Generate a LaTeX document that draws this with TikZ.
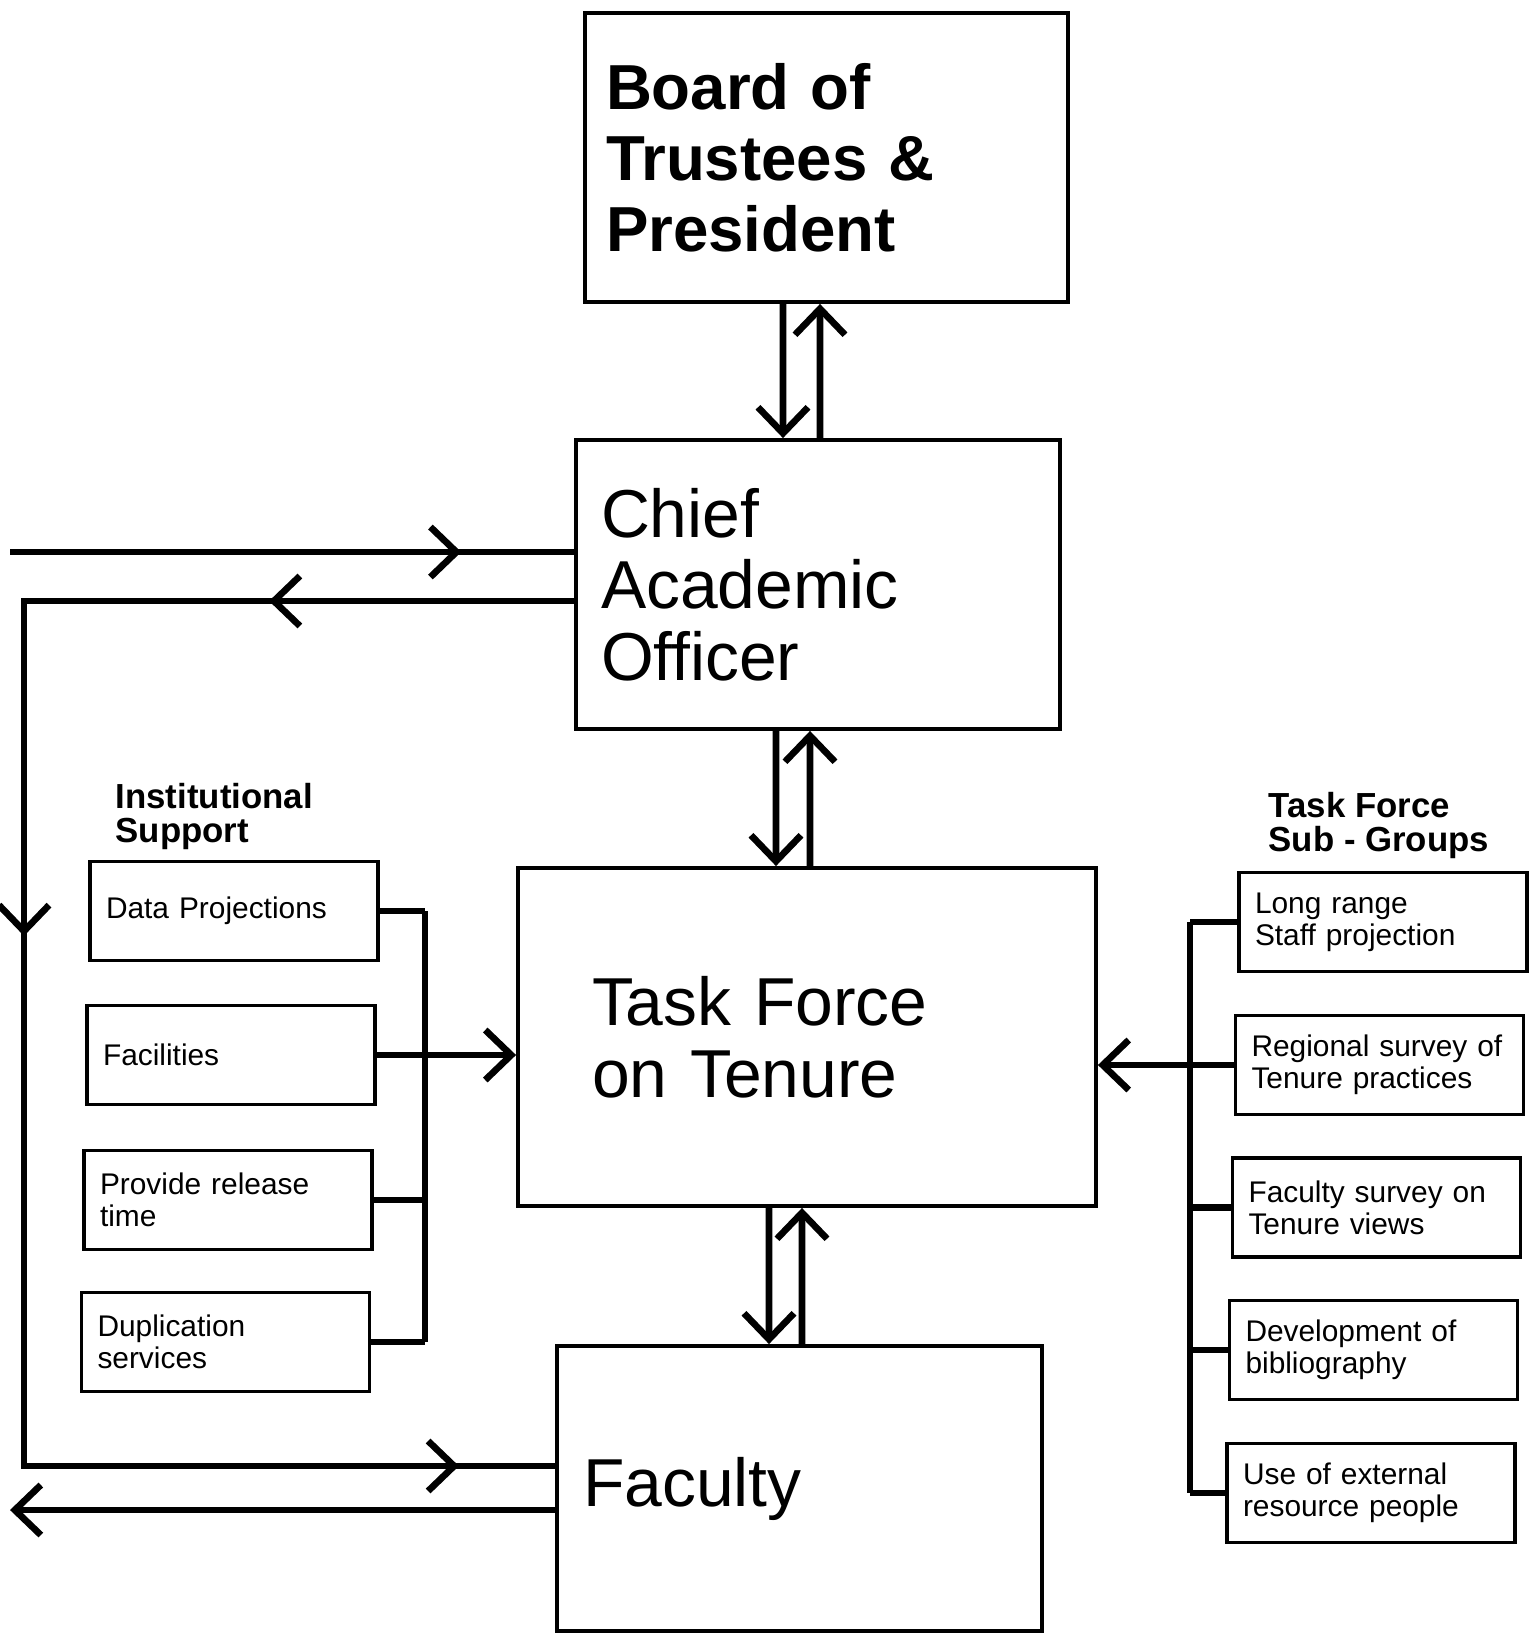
\documentclass[tikz,border=0pt]{standalone}
\usepackage{fontspec}
\setmainfont{Liberation Sans}
\usetikzlibrary{arrows.meta, decorations.markings}

\tikzset{
    chev/.tip={Straight Barb[length=2.6mm,width=5mm]},
    flow/.style={line width=1.9pt},
    bigbox/.style={draw, line width=1.1pt, rectangle, align=left, inner ysep=0pt,
        minimum height=2.89cm, font=\fontsize{19.3}{20.4}\selectfont},
    smallbox/.style={draw, line width=1pt, rectangle, align=left, text width=2.56cm,
        inner xsep=0.16cm, minimum height=0.99cm, font=\fontsize{8.5}{9.2}\selectfont},
    heading/.style={anchor=north west, inner sep=0pt, align=left,
        font=\bfseries\fontsize{9.9}{9.6}\selectfont},
    midarrow/.style={postaction={decorate,
        decoration={markings, mark=at position #1 with {\arrow{chev}}}}},
}

\begin{document}
\begin{tikzpicture}

    \useasboundingbox (0,0) rectangle (15.36,-16.33);

    %main boxes
    \node[bigbox, text width=4.41cm, inner xsep=0.21cm, font=\bfseries\fontsize{18.1}{20.2}\selectfont]
        (board) at (8.265,-1.575) {Board of\\Trustees \&\\President};
    \node[bigbox, text width=4.34cm, inner xsep=0.25cm] (chief) at (8.18,-5.845)
        {Chief\\Academic\\Officer};
    \node[bigbox, text width=4.30cm, inner xsep=0.74cm, minimum height=3.38cm]
        (tf) at (8.07,-10.37) {Task Force\\on Tenure};
    \node[bigbox, text width=4.33cm, inner xsep=0.26cm, minimum height=2.85cm] (faculty) at (7.995,-14.885)
        {Faculty};

    %institutional support
    \node[heading] (support) at (1.15,-7.83) {Institutional\\Support};
    \node[smallbox] (data) at (2.34,-9.11) {Data Projections};
    \node[smallbox] (facil) at (2.31,-10.55) {Facilities};
    \node[smallbox] (release) at (2.28,-12.0) {Provide release\\time};
    \node[smallbox] (dupl) at (2.255,-13.42) {Duplication\\services};

    %sub-groups
    \node[heading] (groups) at (12.68,-7.92) {Task Force\\Sub - Groups};
    \node[smallbox] (staff) at (13.83,-9.22) {Long range\\Staff projection};
    \node[smallbox] (region) at (13.795,-10.65) {Regional survey of\\Tenure practices};
    \node[smallbox] (views) at (13.765,-12.075) {Faculty survey on\\Tenure views};
    \node[smallbox] (biblio) at (13.735,-13.5) {Development of\\bibliography};
    \node[smallbox] (extern) at (13.71,-14.93) {Use of external\\resource people};

    %vertical arrows
    \draw[flow,-chev] ([xshift=-4.35mm]board.south) -- ([xshift=-3.5mm]chief.north);
    \draw[flow,-chev] ([xshift=0.2mm]chief.north) -- ([xshift=-0.65mm]board.south);
    \draw[flow,-chev] ([xshift=-4.2mm]chief.south) -- ([xshift=-3.1mm]tf.north);
    \draw[flow,-chev] ([xshift=0.3mm]tf.north) -- ([xshift=-0.8mm]chief.south);
    \draw[flow,-chev] ([xshift=-3.8mm]tf.south) -- ([xshift=-3.05mm]faculty.north);
    \draw[flow,-chev] ([xshift=0.25mm]faculty.north) -- ([xshift=-0.5mm]tf.south);

    %left loop
    \coordinate (in) at (0.1,-5.52);
    \coordinate (out) at (0.1,-15.10);
    \coordinate (ltop) at (0.24,-6.01);
    \coordinate (lbot) at (0.24,-14.66);

    \draw[flow, midarrow=0.8] (in) -- (in -| chief.west);
    \draw[flow, postaction={decorate, decoration={markings,
            mark=at position 3.05cm with {\arrow{chev}},
            mark=at position 8.85cm with {\arrow{chev}},
            mark=at position 18.5cm with {\arrow{chev}}}}]
        (ltop -| chief.west) -- (ltop) -- (lbot) -- (lbot -| faculty.west);
    \draw[flow,-chev] (out -| faculty.west) -- (out);

    %left bracket
    \coordinate (lbar) at (4.25,0);
    \foreach \b in {data,facil,release,dupl}
        \draw[flow] (\b.east) -- (\b.east -| lbar);
    \draw[flow] (data.east -| lbar) -- (dupl.east -| lbar);
    \draw[flow,-chev] (facil.east) -- (facil.east -| tf.west);

    %right bracket
    \coordinate (rbar) at (11.9,0);
    \foreach \b in {staff,region,views,biblio,extern}
        \draw[flow] (\b.west) -- (\b.west -| rbar);
    \draw[flow] (staff.west -| rbar) -- (extern.west -| rbar);
    \draw[flow,-chev] (region.west) -- (region.west -| tf.east);

\end{tikzpicture}
\end{document}
